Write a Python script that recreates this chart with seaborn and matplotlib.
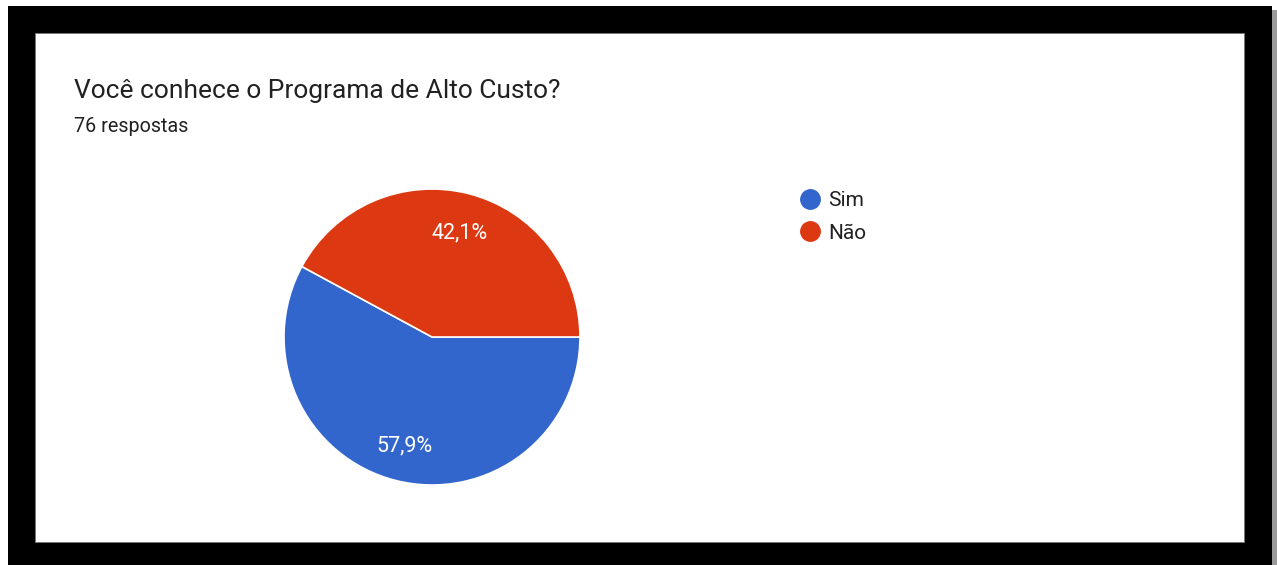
import matplotlib
matplotlib.use("Agg")
import matplotlib.pyplot as plt
from matplotlib.patches import Rectangle
from matplotlib.lines import Line2D
import numpy as np
import seaborn as sns

# Data
categories = ["Sim", "Não"]
values = [57.9, 42.1]
pct_labels = ["57,9%", "42,1%"]
title = "Você conhece o Programa de Alto Custo?"
subtitle = "76 respostas"

sns.set_theme(style="white")
plt.rcParams['font.family'] = ['Roboto', 'DejaVu Sans']

colors = ["#3366CC", "#DC3912"]

W, H = 1277, 565
fig = plt.figure(figsize=(W / 100, H / 100), dpi=100)
fig.patch.set_facecolor("white")

def fx(x):
    return x / W

def fy(y):
    return 1 - y / H

# shadow, black frame, white panel
fig.patches.append(Rectangle((fx(1272), 0), fx(5), fy(10), transform=fig.transFigure,
                             facecolor="#9a9a9a", edgecolor="none", zorder=0))
fig.patches.append(Rectangle((fx(8), 0), fx(1264), fy(6), transform=fig.transFigure,
                             facecolor="black", edgecolor="none", zorder=1))
fig.patches.append(Rectangle((fx(35), fy(542)), fx(1209), (542 - 33) / H, transform=fig.transFigure,
                             facecolor="white", edgecolor="#777777", linewidth=0.6, zorder=2))

# titles
fig.text(fx(74), fy(91), title, fontsize=19, color="#212121", va="center", ha="left", zorder=3)
fig.text(fx(74), fy(126), subtitle, fontsize=14.2, color="#212121", va="center", ha="left", zorder=3)

# pie
cx, cy, r = 432, 337, 148
ax = fig.add_axes([fx(cx - r), fy(cy + r), fx(2 * r), 2 * r / H])
ax.set_zorder(4)
ax.pie(values, colors=colors, startangle=0, counterclock=False, radius=1,
       wedgeprops=dict(edgecolor="white", linewidth=1.2))
ax.set_xlim(-1, 1)
ax.set_ylim(-1, 1)
ax.set_aspect("equal")
ax.axis("off")

# percentage labels placed along slice bisectors
start = 0.0
total = sum(values)
for v, lab in zip(values, pct_labels):
    span = 360 * v / total
    mid = np.deg2rad(start - span / 2)
    rr = 0.745
    ax.text(rr * np.cos(mid), rr * np.sin(mid) - 0.017, lab, color="white", fontsize=15.5,
            ha="center", va="center")
    start -= span

# legend
handles = [Line2D([0], [0], marker="o", linestyle="none", markersize=14,
                  markerfacecolor=c, markeredgecolor=c) for c in colors]
leg = fig.legend(handles, categories, loc="upper left",
                 bbox_to_anchor=(fx(800), fy(191)), frameon=False,
                 fontsize=15, handlelength=1.0, handletextpad=0.35,
                 labelspacing=0.65, borderpad=0, borderaxespad=0)
leg.set_zorder(5)
for t in leg.get_texts():
    t.set_color("#212121")

fig.savefig("out.png", dpi=100, facecolor="white")
